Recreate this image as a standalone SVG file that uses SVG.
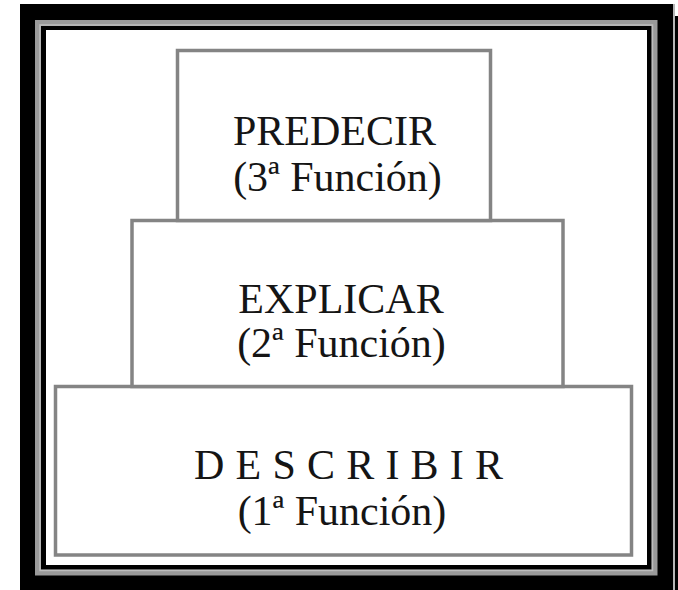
<svg xmlns="http://www.w3.org/2000/svg" width="678" height="590" viewBox="0 0 678 590">
  <defs>
    <style>
      .box { fill: #ffffff; stroke: #848484; stroke-width: 3.5; }
      .lbl { font-family: "Liberation Serif", "Times New Roman", serif; font-size: 42px; fill: #151515; text-anchor: middle; }
    </style>
  </defs>
  <rect x="0" y="0" width="678" height="590" fill="#ffffff"/>
  <g id="frame">
    <rect x="20" y="4" width="653" height="586" fill="#000000"/>
    <rect x="673" y="4" width="2" height="586" fill="#b5b5b5"/>
    <rect x="675" y="16" width="3" height="574" fill="#000000"/>
    <rect x="38" y="23" width="616.5" height="549.5" fill="none" stroke="#9a9a9a" stroke-width="6"/>
    <rect x="40" y="25" width="612.5" height="545.5" fill="none" stroke="#bdbdbd" stroke-width="1.5"/>
    <rect x="46" y="30" width="601" height="535" fill="#ffffff"/>
  </g>
  <g id="connectors"></g>
  <g id="node-describir">
    <rect class="box" x="55.5" y="386.5" width="576" height="168.5"/>
    <text class="lbl" x="194" y="479" text-anchor="start" style="text-anchor:start" textLength="309" lengthAdjust="spacing">DESCRIBIR</text>
    <text class="lbl" x="342" y="525">(1ª Función)</text>
  </g>
  <g id="node-explicar">
    <rect class="box" x="132" y="220.5" width="431" height="166"/>
    <text class="lbl" x="341" y="313">EXPLICAR</text>
    <text class="lbl" x="341.5" y="357">(2ª Función)</text>
  </g>
  <g id="node-predecir">
    <rect class="box" x="177.5" y="50.5" width="313" height="170"/>
    <text class="lbl" x="334.5" y="145">PREDECIR</text>
    <text class="lbl" x="337.5" y="191">(3ª Función)</text>
  </g>
</svg>
